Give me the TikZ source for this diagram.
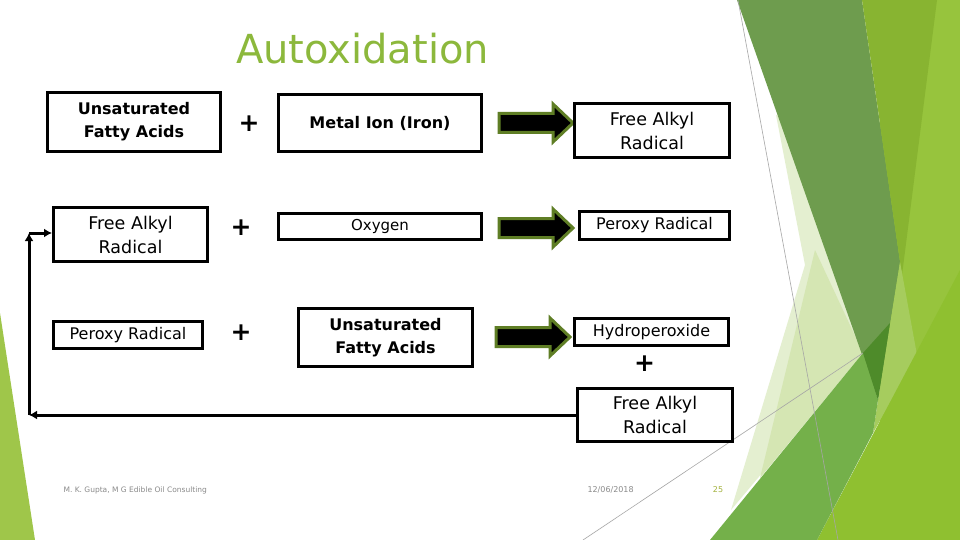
\documentclass[tikz,border=0pt]{standalone}
\usepackage{fontspec}
\setmainfont{DejaVu Sans}
\usetikzlibrary{arrows.meta}
\definecolor{ttl}{HTML}{8CB83C}
\definecolor{arrowedge}{HTML}{5F7E25}
\definecolor{leftg}{HTML}{9FC64A}
\definecolor{darkband}{HTML}{6E9C4E}
\definecolor{oliveband}{HTML}{88B431}
\definecolor{rightg}{HTML}{97C43D}
\definecolor{paleA}{HTML}{E4EFD0}
\definecolor{paleB}{HTML}{D5E6B3}
\definecolor{midg}{HTML}{74B04A}
\definecolor{brightg}{HTML}{8FC030}
\definecolor{tipg}{HTML}{4E8B2A}
\definecolor{overg}{HTML}{A6CC5E}
\definecolor{foot}{HTML}{8A8A8A}
\definecolor{pagenum}{HTML}{A3B23E}
\begin{document}
\begin{tikzpicture}[x=1pt,y=-1pt,
  box/.style={draw=black,line width=3pt,inner sep=0pt,align=center,text=black},
  fs/.style={font=\fontsize{16}{23}\selectfont},
  fsb/.style={font=\fontsize{16}{23}\selectfont\bfseries},
  fal/.style={font=\fontsize{17.5}{24}\selectfont},
  plus/.style={font=\fontsize{25}{25}\selectfont\bfseries},
  barrowstyle/.style={fill=black, draw=arrowedge, line width=3pt, line join=miter},
  blockarr/.pic={\path[barrowstyle] (-37,-9.5) -- (17,-9.5) -- (17,-19) -- (37,0)
     -- (17,19) -- (17,9.5) -- (-37,9.5) -- cycle;},
  fb/.style={line width=3pt,-{Latex[length=8pt,width=9pt]}},
  thin/.style={draw=gray!70,line width=0.6pt},
  foottext/.style={font=\fontsize{7.5}{9}\selectfont,text=foot}
]
\useasboundingbox (0,0) rectangle (960,540);
\fill[white] (0,0) rectangle (960,540);
% background facets
\fill[leftg] (0,313) -- (0,540) -- (35,540) -- cycle;
\fill[rightg] (880,0) -- (960,0) -- (960,540) -- (880,540) -- cycle;
\fill[paleA] (776,115) -- (805,265) -- (731,510) -- (863,353) -- (850,150) -- cycle;
\fill[paleB] (815,250) -- (863,353) -- (760,478) -- cycle;
\fill[darkband] (737,0) -- (862,0) -- (900,262) -- (878,400) -- cycle;
\fill[oliveband] (862,0) -- (937,0) -- (902,275) -- cycle;
\fill[overg] (900,262) -- (917,355) -- (873,433) -- (878,400) -- cycle;
\fill[brightg] (817,540) -- (960,270) -- (960,540) -- cycle;
\fill[midg] (710,540) -- (863,353) -- (878,400) -- (873,433) -- (817,540) -- cycle;
\fill[tipg] (863,353) -- (890,323) -- (878,400) -- cycle;
\draw[thin] (738,0) -- (838,540);
\draw[thin] (583,540) -- (863,353);

% title
\node[anchor=base,text=ttl,font=\fontsize{40}{44}\selectfont] (title) at (362.5,64) {Autoxidation};

% row 1
\node[box,fsb,minimum width=173pt,minimum height=59pt] (b1) at (134,122) {Unsaturated\\Fatty Acids};
\node[plus] (p1) at (249,124) {+};
\node[box,font=\fontsize{16}{20}\selectfont\bfseries,minimum width=203pt,minimum height=57pt] (m1) at (380,123) {Metal Ion (Iron)};
\pic (a1) at (536,123) {blockarr};
\node[box,fal,minimum width=155pt,minimum height=54pt] (r1) at (652,130.5) {Free Alkyl\\Radical};

% row 2
\node[box,fal,minimum width=154pt,minimum height=54pt] (b2) at (130.5,234.5) {Free Alkyl\\Radical};
\node[plus] (p2) at (241,228) {+};
\node[box,font=\fontsize{15}{20}\selectfont,minimum width=203pt,minimum height=26pt] (m2) at (380,226.5) {Oxygen};
\pic (a2) at (536,228) {blockarr};
\node[box,fs,minimum width=150pt,minimum height=28pt] (r2) at (654.5,225.5) {Peroxy Radical};

% row 3
\node[box,fs,minimum width=149pt,minimum height=27pt] (b3) at (128,335) {Peroxy Radical};
\node[plus] (p3) at (241,333) {+};
\node[box,fsb,minimum width=174pt,minimum height=58pt] (m3) at (385.5,337.5) {Unsaturated\\Fatty Acids};
\pic (a3) at (533,337) {blockarr};
\node[box,fs,minimum width=154pt,minimum height=27pt] (r3) at (651.5,332) {Hydroperoxide};
\node[plus] (p4) at (644.5,364) {+};
\node[box,fal,minimum width=155pt,minimum height=53pt] (r4) at (655,415) {Free Alkyl\\Radical};

% feedback loop
\coordinate (c1) at (29,415);
\coordinate (c2) at (29,233);
\draw[fb] (r4.west) -- (c1);
\draw[fb] (c1) -- (c2);
\draw[fb] (c2) -- (c2 -| b2.west);

% footer
\node[foottext,anchor=west] (f1) at (60,490) {M. K. Gupta, M G Edible Oil Consulting};
\node[foottext,font=\fontsize{8}{9}\selectfont,anchor=west] (f2) at (584,490) {12/06/2018};
\node[font=\fontsize{8}{9}\selectfont,text=pagenum] (f3) at (718,490) {25};
\end{tikzpicture}
\end{document}
